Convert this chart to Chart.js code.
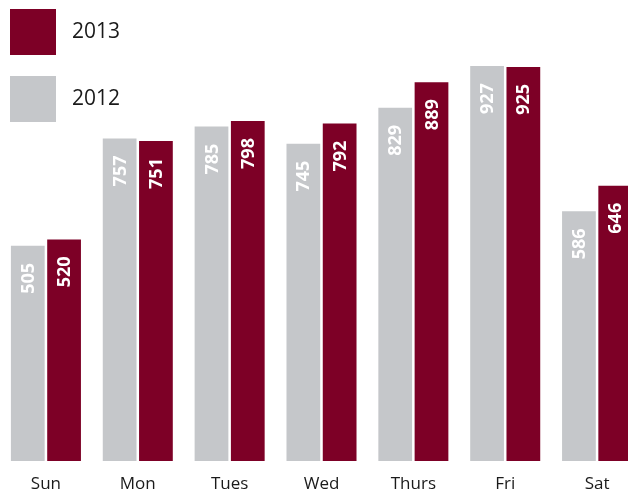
<!DOCTYPE html>
<html>
<head>
<meta charset="utf-8">
<script src="https://cdn.jsdelivr.net/npm/chart.js@4/dist/chart.umd.min.js"></script>
<style>
  html, body { margin: 0; padding: 0; background: #fff; overflow: hidden; }
  #wrap { position: relative; width: 643px; height: 493px; }
</style>
</head>
<body>
<div id="wrap"><canvas id="dayChart"></canvas></div>
<script>
// Datos por día de la semana
const days = ['Sun', 'Mon', 'Tues', 'Wed', 'Thurs', 'Fri', 'Sat'];
const values2012 = [505, 757, 785, 745, 829, 927, 586];
const values2013 = [520, 751, 798, 792, 889, 925, 646];
const legendOrder = ['2013', '2012'];

const GRAY = '#c5c7ca';
const RED = '#7d0026';
const FONT = '"Open Sans", "DejaVu Sans", sans-serif';

// Etiquetas de valor giradas dentro de cada barra
const barLabels = {
    id: 'barLabels',
    afterDatasetsDraw(chart) {
        const ctx = chart.ctx;
        ctx.save();
        ctx.fillStyle = '#ffffff';
        ctx.font = 'bold 18px ' + FONT;
        ctx.textAlign = 'right';
        ctx.textBaseline = 'middle';
        chart.data.datasets.forEach((ds, i) => {
            chart.getDatasetMeta(i).data.forEach((bar, j) => {
                ctx.save();
                ctx.translate(bar.x + 1, bar.y + 17);
                ctx.rotate(-Math.PI / 2);
                ctx.fillText(String(ds.data[j]), 0, 0);
                ctx.restore();
            });
        });
        ctx.restore();
    }
};

// Leyenda con cuadros grandes arriba a la izquierda
const bigLegend = {
    id: 'bigLegend',
    afterDraw(chart) {
        const ctx = chart.ctx;
        ctx.save();
        ctx.font = '21px ' + FONT;
        ctx.textBaseline = 'middle';
        ctx.textAlign = 'left';
        legendOrder.forEach((name, k) => {
            const ds = chart.data.datasets.find(d => d.label === name);
            const y = 9 + k * 67;
            ctx.fillStyle = ds.backgroundColor;
            ctx.fillRect(10, y, 46, 46);
            ctx.fillStyle = '#1a1a1a';
            ctx.fillText(name, 72, y + 23);
        });
        ctx.restore();
    }
};

const ctx = document.getElementById('dayChart').getContext('2d');
const dayChart = new Chart(ctx, {
    type: 'bar',
    data: {
        labels: days,
        datasets: [
            { label: '2012', data: values2012, backgroundColor: GRAY },
            { label: '2013', data: values2013, backgroundColor: RED }
        ]
    },
    options: {
        responsive: true,
        maintainAspectRatio: false,
        animation: false,
        layout: { padding: { top: 35, left: 0, right: 0, bottom: 0 } },
        datasets: {
            bar: { categoryPercentage: 0.79, barPercentage: 0.93 }
        },
        plugins: {
            legend: { display: false },
            tooltip: { enabled: false }
        },
        scales: {
            x: {
                grid: { display: false, drawTicks: false },
                border: { display: false },
                ticks: {
                    color: '#1a1a1a',
                    padding: 13,
                    font: { family: FONT, size: 17 }
                },
                afterFit(scale) { scale.height = 32; }
            },
            y: {
                display: false,
                min: 0,
                max: 1000
            }
        }
    },
    plugins: [barLabels, bigLegend]
});
</script>
</body>
</html>
